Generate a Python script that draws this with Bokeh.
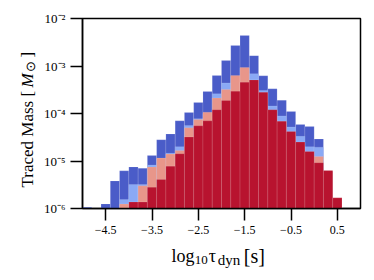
import numpy as np
from bokeh.plotting import figure
from bokeh.models import Range1d, FixedTicker, ColumnDataSource
from bokeh.layouts import row, column
from bokeh.core.properties import value
from bokeh.embed import file_html
from bokeh.resources import INLINE

# ---- data -------------------------------------------------------------
bin_edges = [round(-5 + 0.2 * i, 1) for i in range(31)]

dark_blue = [1.06e-6, 0, 1.25e-6, 3.8e-6, 6.2e-6, 7.5e-6, 7.0e-6, 1.3e-5, 2.8e-5, 3.7e-5,
             7.0e-5, 1.05e-4, 1.7e-4, 2.9e-4, 6.3e-4, 1.3e-3, 2.7e-3, 4.4e-3, 1.65e-3, 6.2e-4,
             3.3e-4, 1.9e-4, 1.1e-4, 5.9e-5, 5.3e-5, 2.9e-5, 6.0e-6, 1.2e-6, 0, 0]
light_blue = [0, 0, 0, 0, 1.55e-6, 3.2e-6, 3.2e-6, 8.2e-6, 1.1e-5, 1.45e-5,
              2.0e-5, 5.6e-5, 7.8e-5, 1.0e-4, 2.6e-4, 4.4e-4, 6.0e-4, 9.0e-4, 6.9e-4, 3.05e-4,
              1.44e-4, 8.9e-5, 5.2e-5, 3.3e-5, 2.0e-5, 1.95e-5, 5.5e-6, 1.2e-6, 0, 0]
salmon = [0, 0, 0, 0, 1.24e-6, 1.3e-6, 3.0e-6, 7.5e-6, 1.15e-5, 1.4e-5,
          1.66e-5, 5.0e-5, 7.5e-5, 1.06e-4, 2.12e-4, 3.2e-4, 6.3e-4, 9.3e-4, 5.0e-4, 2.7e-4,
          1.15e-4, 6.7e-5, 4.1e-5, 2.4e-5, 1.55e-5, 1.24e-5, 6.0e-6, 1.6e-6, 0, 0]
red = [0, 0, 0, 0, 0, 1.37e-6, 1.37e-6, 2.8e-6, 4.1e-6, 7.8e-6,
       1.42e-5, 3.2e-5, 5.5e-5, 7.0e-5, 1.2e-4, 1.88e-4, 2.95e-4, 4.56e-4, 5.1e-4, 2.8e-4,
       1.2e-4, 6.9e-5, 4.2e-5, 2.5e-5, 1.58e-5, 9.2e-6, 6.3e-6, 1.68e-6, 0, 0]

x_ticks = [-4.5, -3.5, -2.5, -1.5, -0.5, 0.5]
x_tick_labels = ["\u22124.5", "\u22123.5", "\u22122.5", "\u22121.5", "\u22120.5", "0.5"]
y_ticks = [1e-6, 1e-5, 1e-4, 1e-3, 1e-2]
y_tick_labels = ["10\u207b\u2076", "10\u207b\u2075", "10\u207b\u2074", "10\u207b\u00b3", "10\u207b\u00b2"]

colors = ["#4a5cc8", "#8aa9f5", "#e8968a", "#b8132f"]
FONT = "Liberation Serif"

# ---- main figure ------------------------------------------------------
LEFT_W = 40
p = figure(width=370 - LEFT_W, height=240, output_backend="svg", toolbar_location=None,
           x_range=Range1d(-5, 1), y_range=Range1d(1e-6, 1e-2), y_axis_type="log",
           min_border_left=82 - LEFT_W, min_border_right=10, min_border_top=18,
           min_border_bottom=32)
p.grid.visible = False
p.outline_line_color = "black"
p.outline_line_width = 1.5
p.background_fill_color = "white"
p.border_fill_color = "white"


def add_hist(vals, color):
    lefts, rights, tops = [], [], []
    for i, v in enumerate(vals):
        if v > 0:
            lefts.append(bin_edges[i])
            rights.append(bin_edges[i + 1])
            tops.append(v)
    src = ColumnDataSource(dict(left=lefts, right=rights, top=tops,
                                bottom=[1e-7] * len(tops)))
    p.quad(left="left", right="right", top="top", bottom="bottom", source=src,
           fill_color=color, fill_alpha=1.0, line_color="white", line_alpha=0.2,
           line_width=0.6)


for vals, c in zip([dark_blue, light_blue, salmon, red], colors):
    add_hist(vals, c)

xa = p.xaxis[0]
xa.ticker = FixedTicker(ticks=x_ticks)
xa.major_label_overrides = {t: l for t, l in zip(x_ticks, x_tick_labels)}
ya = p.yaxis[0]
ya.ticker = FixedTicker(ticks=y_ticks)
ya.major_label_overrides = {t: l for t, l in zip(y_ticks, y_tick_labels)}

for ax in (xa, ya):
    ax.major_tick_out = 12
    ax.major_tick_in = 0
    ax.major_tick_line_width = 1.5
    ax.axis_line_width = 1.5
    ax.minor_tick_line_color = None
    ax.major_label_text_font = FONT
    ax.major_label_text_font_size = "12px"
    ax.major_label_text_color = "black"
    ax.major_label_standoff = 5
ya.major_label_text_font_size = "13px"


# ---- axis-label strips (real text, composed for sub/superscripts) -----
def strip(w, h, xr, yr):
    f = figure(width=w, height=h, output_backend="svg", toolbar_location=None,
               x_range=xr, y_range=yr,
               x_axis_location=None, y_axis_location=None, min_border=0)
    f.grid.visible = False
    f.outline_line_color = None
    f.background_fill_color = "white"
    f.border_fill_color = "white"
    return f


def txt(f, x, y, s, size, style="normal", angle=0.0):
    f.text(x=[x], y=[y], text=[s], text_font=value(FONT),
           text_font_size=value(size), text_font_style=value(style),
           angle=angle, text_align="left", text_baseline="alphabetic",
           text_color="black")


# y label strip: coordinates = page pixels (y downward)
left_fig = strip(LEFT_W, 276, Range1d(0, LEFT_W), Range1d(276, 0))
A = np.pi / 2
txt(left_fig, 27, 187, "Traced Mass [", "17px", angle=A)
txt(left_fig, 27, 87, "M", "17px", style="italic", angle=A)
txt(left_fig, 30, 71, "\u2299", "13px", angle=A)
txt(left_fig, 27, 57, "]", "17px", angle=A)

# x label strip: its frame lines up with the main frame, so it shares x_range
bottom_fig = strip(370 - LEFT_W, 36, p.x_range, Range1d(276, 240))


def xd(px):
    return -5 + (px - 82) / 46.27


txt(bottom_fig, xd(171), 255, "log", "18px")
txt(bottom_fig, xd(194), 259, "10", "13px")
txt(bottom_fig, xd(208), 255, "\u03c4", "18px")
txt(bottom_fig, xd(217), 259, "dyn", "15px")
txt(bottom_fig, xd(243), 255, "[s]", "20px")

layout = row(left_fig, column(p, bottom_fig))
open("out.html", "w").write(file_html(layout, INLINE))
